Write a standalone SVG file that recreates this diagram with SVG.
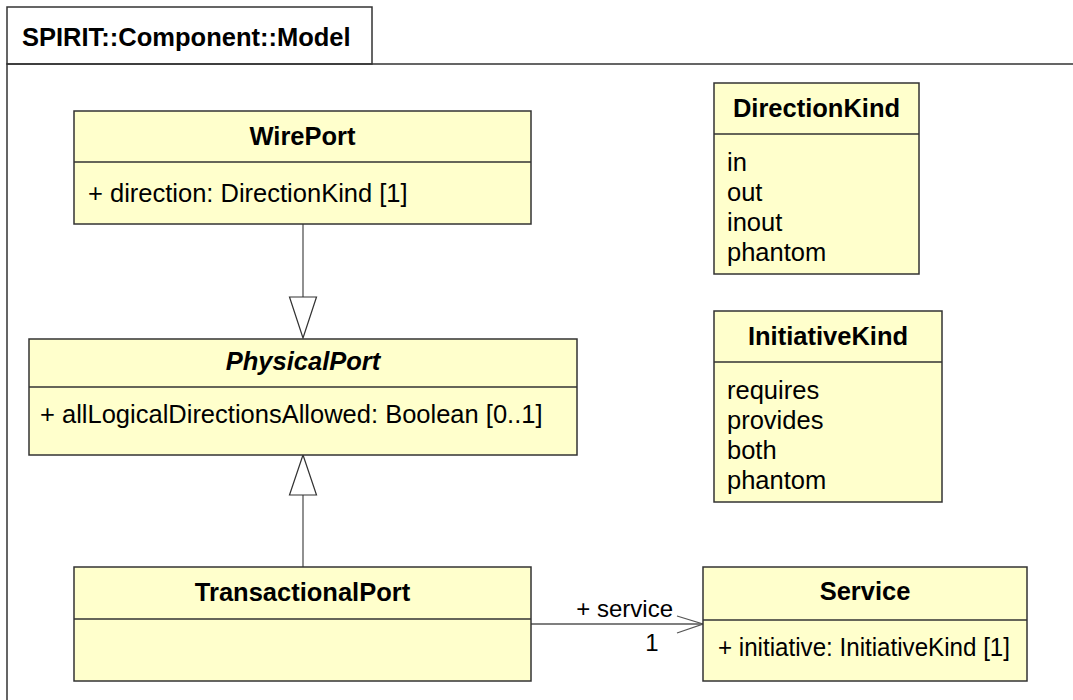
<svg xmlns="http://www.w3.org/2000/svg" width="1073" height="700" viewBox="0 0 1073 700">
<style>
  text { font-family: "Liberation Sans", Arial, sans-serif; font-size: 25.5px; fill: #000; }
  .title { font-weight: bold; text-anchor: middle; }
  .abs { font-style: italic; }
  .lbl { font-size: 24px; }
  .box { fill: #ffffcc; stroke: #333; stroke-width: 1.5; }
  .div { stroke: #333; stroke-width: 1.5; }
  .frame { fill: none; stroke: #333; stroke-width: 1.5; }
  .conn { stroke: #555; stroke-width: 1.3; fill: none; }
  .gen { fill: #fff; stroke: #333; stroke-width: 1.2; }
</style>
<rect width="1073" height="700" fill="#fff"/>
<g id="frame">
  <rect class="frame" x="7" y="64" width="1200" height="700"/>
  <rect class="frame" x="7" y="7" width="365" height="57"/>
  <text x="22" y="46" style="font-weight:bold">SPIRIT::Component::Model</text>
</g>
<g id="connectors">
  <line class="conn" x1="303" y1="224" x2="303" y2="297"/>
  <polygon class="gen" points="289.5,297 316.5,297 303,338"/>
  <line class="conn" x1="303" y1="567" x2="303" y2="495"/>
  <polygon class="gen" points="289.5,495 316.5,495 303,455"/>
  <line class="conn" x1="531" y1="624" x2="703" y2="624"/>
  <polyline class="conn" points="677,616 703,624 677,633"/>
  <text class="lbl" x="673" y="617" text-anchor="end">+ service</text>
  <text class="lbl" x="652" y="651" text-anchor="middle">1</text>
</g>
<g id="WirePort">
  <rect class="box" x="74" y="111" width="457" height="113"/>
  <line class="div" x1="74" y1="162" x2="531" y2="162"/>
  <text class="title" x="302.5" y="145">WirePort</text>
  <text x="88" y="202">+ direction: DirectionKind [1]</text>
</g>
<g id="PhysicalPort">
  <rect class="box" x="29" y="339" width="548" height="116"/>
  <line class="div" x1="29" y1="387" x2="577" y2="387"/>
  <text class="title abs" x="303" y="370">PhysicalPort</text>
  <text x="40" y="423">+ allLogicalDirectionsAllowed: Boolean [0..1]</text>
</g>
<g id="TransactionalPort">
  <rect class="box" x="74" y="567" width="457" height="114"/>
  <line class="div" x1="74" y1="619" x2="531" y2="619"/>
  <text class="title" x="302.5" y="601">TransactionalPort</text>
</g>
<g id="Service">
  <rect class="box" x="703" y="567" width="324" height="114"/>
  <line class="div" x1="703" y1="620" x2="1027" y2="620"/>
  <text class="title" x="865" y="600">Service</text>
  <text x="718" y="656" textLength="292" lengthAdjust="spacingAndGlyphs">+ initiative: InitiativeKind [1]</text>
</g>
<g id="DirectionKind">
  <rect class="box" x="714" y="83" width="205" height="191"/>
  <line class="div" x1="714" y1="134" x2="919" y2="134"/>
  <text class="title" x="816.5" y="117">DirectionKind</text>
  <text x="727" y="171">in</text>
  <text x="727" y="201">out</text>
  <text x="727" y="231">inout</text>
  <text x="727" y="261">phantom</text>
</g>
<g id="InitiativeKind">
  <rect class="box" x="714" y="311" width="228" height="191"/>
  <line class="div" x1="714" y1="362" x2="942" y2="362"/>
  <text class="title" x="828" y="345">InitiativeKind</text>
  <text x="727" y="399">requires</text>
  <text x="727" y="429">provides</text>
  <text x="727" y="459">both</text>
  <text x="727" y="489">phantom</text>
</g>
</svg>
